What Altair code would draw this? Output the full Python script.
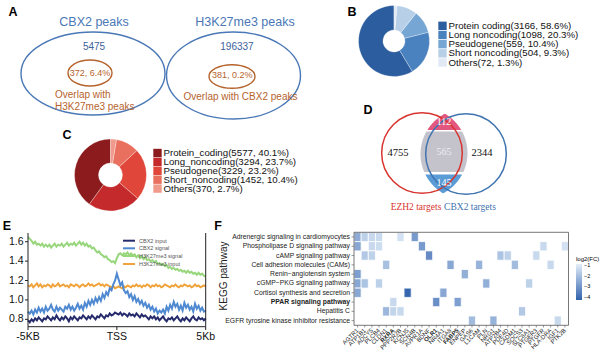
import math
import altair as alt
import numpy as np
import pandas as pd

# ======================= DATA =======================
# Panel A
a_sets = ["CBX2 peaks", "H3K27me3 peaks"]
a_totals = [5475, 196337]
a_overlap = [372, 381]
a_overlap_pct = ["6.4%", "0.2%"]
a_caption = [["Overlap with", "H3K27me3 peaks"], ["Overlap with CBX2 peaks"]]

# Panel B
b_types = ["Protein coding", "Long noncoding", "Pseudogene", "Short noncoding", "Others"]
b_counts = [3166, 1098, 559, 504, 72]
b_pcts = [58.6, 20.3, 10.4, 9.3, 1.3]

# Panel C
c_types = ["Protein_coding", "Long_noncoding", "Pseudogene", "Short_noncoding", "Others"]
c_counts = [5577, 3294, 3229, 1452, 370]
c_pcts = [40.1, 23.7, 23.2, 10.4, 2.7]

# Panel D
d_sets = ["EZH2 targets", "CBX2 targets"]
d_only = [4755, 2344]
d_shared = [112, 565, 145]

# Panel E
e_pos = [round(-5 + 0.1 * i, 1) for i in range(101)]
e_series = ["CBX2 input", "CBX2 signal", "H3K27me3 signal", "H3K27me3 input"]
e_cbx2_input = [
    0.79, 0.77, 0.80, 0.78, 0.81, 0.79, 0.82, 0.80, 0.78, 0.81,
    0.80, 0.83, 0.81, 0.79, 0.82, 0.80, 0.84, 0.81, 0.79, 0.82,
    0.80, 0.83, 0.81, 0.78, 0.82, 0.80, 0.83, 0.81, 0.79, 0.82,
    0.81, 0.84, 0.82, 0.80, 0.83, 0.81, 0.84, 0.82, 0.80, 0.83,
    0.82, 0.85, 0.83, 0.81, 0.84, 0.83, 0.86, 0.84, 0.85, 0.87,
    0.86, 0.85, 0.87, 0.84, 0.86, 0.85, 0.83, 0.86, 0.84, 0.85,
    0.83, 0.86, 0.84, 0.82, 0.85, 0.83, 0.84, 0.82, 0.80, 0.83,
    0.81, 0.83, 0.80, 0.82, 0.79, 0.81, 0.83, 0.80, 0.78, 0.81,
    0.80, 0.82, 0.79, 0.81, 0.83, 0.80, 0.78, 0.81, 0.79, 0.82,
    0.80, 0.78, 0.81, 0.83, 0.80, 0.79, 0.82, 0.80, 0.81, 0.79,
    0.81]
e_cbx2_signal = [
    0.88, 0.86, 0.89, 0.85, 0.90, 0.87, 0.92, 0.88, 0.91, 0.87,
    0.93, 0.89, 0.91, 0.95, 0.90, 0.88, 0.93, 0.89, 0.92, 0.90,
    0.88, 0.93, 0.91, 0.95, 0.90, 0.93, 0.89, 0.92, 0.96, 0.91,
    0.94, 0.90, 0.97, 0.93, 0.99, 0.95, 1.00, 0.96, 1.02, 0.98,
    1.03, 0.99, 1.06, 1.02, 1.08, 1.05, 1.12, 1.10, 1.16, 1.20,
    1.27, 1.21, 1.15, 1.18, 1.10, 1.07, 1.09, 1.03, 1.06, 1.00,
    1.04, 0.98, 1.01, 0.96, 0.99, 0.94, 0.97, 0.92, 0.95, 0.90,
    0.93, 0.88, 0.91, 0.86, 0.89, 0.87, 0.90, 0.86, 0.93, 0.89,
    0.95, 0.91, 0.98, 0.93, 0.96, 0.90, 0.94, 0.89, 0.97, 0.92,
    0.95, 0.90, 0.93, 0.88, 0.96, 0.91, 0.94, 0.89, 0.92, 0.88,
    0.89]
e_h3_signal = [
    1.65, 1.63, 1.61, 1.58, 1.60, 1.57, 1.58, 1.56, 1.58, 1.55,
    1.57, 1.55, 1.57, 1.54, 1.56, 1.58, 1.55, 1.57, 1.56, 1.58,
    1.55, 1.57, 1.59, 1.56, 1.58, 1.57, 1.59, 1.56, 1.58, 1.60,
    1.57, 1.59, 1.56, 1.58, 1.55, 1.56, 1.53, 1.54, 1.51, 1.49,
    1.50, 1.47, 1.46, 1.44, 1.45, 1.42, 1.41, 1.39, 1.40, 1.38,
    1.43, 1.47, 1.48, 1.46, 1.48, 1.47, 1.49, 1.46, 1.48, 1.46,
    1.47, 1.44, 1.46, 1.43, 1.45, 1.42, 1.44, 1.41, 1.42, 1.40,
    1.41, 1.39, 1.40, 1.37, 1.38, 1.36, 1.37, 1.35, 1.36, 1.33,
    1.34, 1.32, 1.33, 1.31, 1.32, 1.30, 1.31, 1.29, 1.30, 1.28,
    1.30, 1.28, 1.29, 1.27, 1.28, 1.26, 1.28, 1.26, 1.27, 1.25,
    1.24]
e_h3_input = [
    1.15, 1.14, 1.16, 1.13, 1.15, 1.17, 1.14, 1.16, 1.13, 1.15,
    1.14, 1.16, 1.15, 1.13, 1.16, 1.14, 1.15, 1.17, 1.14, 1.15,
    1.16, 1.14, 1.15, 1.13, 1.16, 1.15, 1.14, 1.16, 1.15, 1.13,
    1.15, 1.16, 1.14, 1.15, 1.17, 1.15, 1.16, 1.14, 1.15, 1.16,
    1.17, 1.15, 1.16, 1.14, 1.16, 1.15, 1.14, 1.13, 1.14, 1.12,
    1.13, 1.14, 1.13, 1.12, 1.14, 1.13, 1.15, 1.14, 1.13, 1.15,
    1.14, 1.16, 1.14, 1.15, 1.13, 1.15, 1.14, 1.16, 1.15, 1.13,
    1.15, 1.14, 1.16, 1.14, 1.15, 1.13, 1.14, 1.16, 1.15, 1.14,
    1.13, 1.15, 1.14, 1.16, 1.14, 1.13, 1.15, 1.14, 1.16, 1.15,
    1.14, 1.15, 1.13, 1.14, 1.16, 1.14, 1.15, 1.13, 1.14, 1.15,
    1.14]
e_xticks = [-5, 0, 5]
e_xlabels = ["-5KB", "TSS", "5Kb"]
e_yticks = [0.8, 1.0, 1.2, 1.4, 1.6]

# Panel F
f_pathways = [
    "Adrenergic signaling in cardiomyocytes",
    "Phospholipase D signaling pathway",
    "cAMP signaling pathway",
    "Cell adhesion molecules (CAMs)",
    "Renin\u2212angiotensin system",
    "cGMP\u2212PKG signaling pathway",
    "Cortisol synthesis and secretion",
    "PPAR signaling pathway",
    "Hepatitis C",
    "EGFR tyrosine kinase inhibitor resistance",
]
f_genes = ["AGTR1", "ATP1B1", "ADCY5", "PLCB4", "CLDN1", "RXRA", "PPP2R2B", "KCNJ5",
           "SCN4B", "AVPR1A", "BDNF", "OLR1", "NR4A1", "ITGA8", "FABP5", "ENPEP",
           "GAS6", "L1CAM", "PLN", "NRG1", "ATP2B4", "PDE4D", "CADM1", "SOCS3",
           "SLC8A1", "PTGER3", "PTGFR", "HLA-DRA", "IGF1", "PTK2B"]
f_hits = {
    "Adrenergic signaling in cardiomyocytes": [("AGTR1", -2.5), ("ATP1B1", -1.6), ("ADCY5", -1.4), ("PLCB4", -1.35), ("PPP2R2B", -1.2), ("SCN4B", -2.9)],
    "Phospholipase D signaling pathway": [("AGTR1", -2.6), ("ADCY5", -1.4), ("PLCB4", -1.3), ("AVPR1A", -2.9), ("PTGFR", -1.4), ("PTK2B", -1.2)],
    "cAMP signaling pathway": [("ATP1B1", -1.8), ("ADCY5", -1.6), ("BDNF", -3.3), ("ATP2B4", -1.9), ("PDE4D", -1.6), ("PTGER3", -1.4)],
    "Cell adhesion molecules (CAMs)": [("CLDN1", -2.0), ("ITGA8", -2.6), ("L1CAM", -2.3), ("CADM1", -2.1), ("HLA-DRA", -1.4)],
    "Renin\u2212angiotensin system": [("AGTR1", -2.8), ("ENPEP", -2.4)],
    "cGMP\u2212PKG signaling pathway": [("AGTR1", -2.6), ("ATP1B1", -1.9), ("PLCB4", -1.6), ("PLN", -2.4), ("SLC8A1", -1.6)],
    "Cortisol synthesis and secretion": [("AGTR1", -2.6), ("KCNJ5", -4.2), ("NR4A1", -2.6)],
    "PPAR signaling pathway": [("RXRA", -1.4), ("OLR1", -3.2), ("FABP5", -2.8)],
    "Hepatitis C": [("CLDN1", -2.2), ("RXRA", -1.5), ("PPP2R2B", -1.4), ("SOCS3", -1.8)],
    "EGFR tyrosine kinase inhibitor resistance": [("GAS6", -2.1), ("NRG1", -2.3), ("IGF1", -1.4)],
}
f_highlight = "PPAR signaling pathway"

# ======================= STYLE / LAYOUT =======================
SANS = "Liberation Sans"
SERIF = "Liberation Serif"
A_BLUE = "#4a78b6"
A_BROWN = "#b5632d"
B_PAL = ["#2c5d9f", "#4a82c0", "#76a6d3", "#b7d0e7", "#e0e9f4"]
C_PAL = ["#8c1b1d", "#c42a2b", "#e04639", "#e9705f", "#f09a8b"]
E_PAL = ["#262b6c", "#4e89d1", "#97d67b", "#f0a33a"]

letters = [("A", 13, 12), ("B", 352, 12), ("C", 67, 135), ("D", 368, 110), ("E", 7, 226), ("F", 218, 226)]


def pX(f="x"):
    return alt.X(f"{f}:Q", scale=None, axis=None)


def pY(f="y"):
    return alt.Y(f"{f}:Q", scale=None, axis=None)


def raw_color(f="col"):
    return alt.Color(f"{f}:N", scale=None, legend=None)


def texts(rows, align="center", baseline="middle", font=SANS, weight="normal", angle=None):
    df = pd.DataFrame(rows, columns=["t", "x", "y", "fs", "col"])
    kw = dict(align=align, baseline=baseline, font=font, fontWeight=weight)
    if angle is not None:
        kw["angle"] = angle
    return alt.Chart(df).mark_text(**kw).encode(
        x=pX(), y=pY(), text="t:N",
        size=alt.Size("fs:Q", scale=None, legend=None), color=raw_color())


def ellipse_path(k):
    return f"M -1 0 A 1 {k:.4f} 0 1 1 1 0 A 1 {k:.4f} 0 1 1 -1 0 Z"


units = []

# ---------------- Panel letters ----------------
units.append(texts([(l, x, y, 12.5, "#000") for l, x, y in letters], weight="bold"))

# ---------------- Panel A ----------------
A_OUTER = [(93, 73.5, 72, 41.5), (233.5, 75.5, 67, 43.5)]
A_INNER = [(90, 73, 22, 13), (232, 76.5, 23, 11.7)]
ell_rows = []
for (cx, cy, rx, ry) in A_OUTER:
    ell_rows.append(dict(x=cx, y=cy, shape=ellipse_path(ry / rx), size=(2 * rx) ** 2, col=A_BLUE))
for (cx, cy, rx, ry) in A_INNER:
    ell_rows.append(dict(x=cx, y=cy, shape=ellipse_path(ry / rx), size=(2 * rx) ** 2, col=A_BROWN))
units.append(alt.Chart(pd.DataFrame(ell_rows)).mark_point(filled=False, strokeWidth=1.4, opacity=1).encode(
    x=pX(), y=pY(), shape=alt.Shape("shape:N", scale=None, legend=None),
    size=alt.Size("size:Q", scale=None, legend=None), color=raw_color()))

A_TITLE_POS = [(94, 22), (245, 22)]
A_TOTAL_POS = [(94, 47), (237, 47)]
A_OVL_POS = [(90, 73), (232.3, 75)]
rows = []
for i in range(2):
    rows.append((a_sets[i], *A_TITLE_POS[i], 12.5, A_BLUE))
    rows.append((str(a_totals[i]), *A_TOTAL_POS[i], 10, "#3d629c"))
    rows.append((f"{a_overlap[i]}, {a_overlap_pct[i]}", *A_OVL_POS[i], 9, A_BROWN))
units.append(texts(rows))
A_CAP_POS = [[(55, 95), (55, 106.5)], [(183.5, 97)]]
cap_rows = []
for i in range(2):
    for line, (x, y) in zip(a_caption[i], A_CAP_POS[i]):
        cap_rows.append((line, x, y, 10, A_BROWN))
units.append(texts(cap_rows, align="left"))


# ---------------- Panels B & C (donuts) ----------------
def donut(types, counts, pcts, pal, center, r_in, r_out, sq_x, txt_x, y_range):
    df = pd.DataFrame({"type": types, "count": counts, "pct": pcts})
    df["label"] = [f"{t}({c}, {p}%)" for t, c, p in zip(types, counts, pcts)]
    df["ord"] = list(range(len(types)))[::-1]
    cscale = alt.Scale(domain=types, range=pal)
    pie = alt.Chart(df).mark_arc(innerRadius=r_in, outerRadius=r_out, stroke="white", strokeWidth=0.3).encode(
        theta=alt.Theta("count:Q", stack=True),
        order=alt.Order("ord:Q"),
        color=alt.Color("type:N", scale=cscale, legend=None),
        x=alt.value(center[0]), y=alt.value(center[1]))
    hole = alt.Chart(pd.DataFrame({"x": [center[0]], "y": [center[1]]})).mark_point(
        shape="circle", filled=True, opacity=1, color="white", strokeWidth=0,
        size=math.pi * r_in * r_in).encode(x=pX(), y=pY())
    yscale = alt.Scale(type="point", domain=types, range=y_range, padding=0)
    sq = alt.Chart(df).mark_square(size=70, opacity=1).encode(
        x=alt.value(sq_x), y=alt.Y("type:N", scale=yscale, axis=None),
        color=alt.Color("type:N", scale=cscale, legend=None))
    lab = alt.Chart(df).mark_text(align="left", baseline="middle", font=SANS, fontSize=9.7, color="#111").encode(
        x=alt.value(txt_x), y=alt.Y("type:N", scale=yscale, axis=None), text="label:N")
    return [pie, hole, sq, lab]


units += donut(b_types, b_counts, b_pcts, B_PAL, (394, 41), 11, 35.5, 442.5, 448.5, [25.8, 62.5])
units += donut(c_types, c_counts, c_pcts, C_PAL, (110.5, 175), 12, 36, 157.5, 163.5, [153, 188.6])

# ---------------- Panel D (Venn) ----------------
RED_C = (422.0, 153.0)
BLUE_C = (466.0, 154.0)
R = 45.5
LENS_C = (444.0, 153.0)
S = 50.0


def circ_x(c, y, side):
    d = R * R - (y - c[1]) ** 2
    if d < 0:
        return None
    return c[0] + side * math.sqrt(d)


lens_ys = []
for y in np.arange(100, 210, 0.05):
    xl, xr = circ_x(BLUE_C, y, -1), circ_x(RED_C, y, 1)
    if xl is not None and xr is not None and xl <= xr:
        lens_ys.append(float(y))
l_top, l_bot = min(lens_ys), max(lens_ys)


def band_path(y0, y1):
    yy = np.linspace(y0, y1, 30)
    pts = [(circ_x(BLUE_C, y, -1), y) for y in yy] + [(circ_x(RED_C, y, 1), y) for y in yy[::-1]]
    return "M " + " L ".join(f"{(x - LENS_C[0]) / S:.4f} {(y - LENS_C[1]) / S:.4f}" for x, y in pts) + " Z"


bands = [(l_top, 130.0, "#e2577f"), (131.6, 172.0, "#c4c2cb"), (174.4, l_bot, "#5b9bd6")]
band_df = pd.DataFrame([dict(x=LENS_C[0], y=LENS_C[1], shape=band_path(a, b), size=(2 * S) ** 2, col=c)
                        for a, b, c in bands])
units.append(alt.Chart(band_df).mark_point(filled=True, opacity=1, strokeWidth=0).encode(
    x=pX(), y=pY(), shape=alt.Shape("shape:N", scale=None, legend=None),
    size=alt.Size("size:Q", scale=None, legend=None), color=raw_color()))
circ_df = pd.DataFrame([dict(x=RED_C[0], y=RED_C[1], size=math.pi * R * R, col="#d8342f"),
                        dict(x=BLUE_C[0], y=BLUE_C[1], size=math.pi * R * R, col="#3f74b0")])
units.append(alt.Chart(circ_df).mark_point(filled=False, shape="circle", strokeWidth=1.5, opacity=1).encode(
    x=pX(), y=pY(), size=alt.Size("size:Q", scale=None, legend=None), color=raw_color()))
d_rows = [
    (str(d_only[0]), 398, 153, 10.5, "#111"),
    (str(d_only[1]), 482, 153, 10.5, "#111"),
    (str(d_shared[0]), 444, 122, 10, "#ffffff"),
    (str(d_shared[1]), 444, 152, 10, "#ececf2"),
    (str(d_shared[2]), 444, 182.5, 10, "#ffffff"),
    (d_sets[0], 416, 207, 9.5, "#d8342f"),
    (d_sets[1], 470, 207, 9.5, "#3f74b0"),
]
units.append(texts(d_rows, font=SERIF))

# ---------------- Panel E (profile) ----------------
E_XDOM = [-5, 5]
E_YDOM = [0.724, 1.69]
exs = alt.Scale(domain=E_XDOM, range=[28, 205.7], nice=False, zero=False)
eys = alt.Scale(domain=E_YDOM, range=[326.7, 233], nice=False, zero=False)
e_vals = {"CBX2 input": e_cbx2_input, "CBX2 signal": e_cbx2_signal,
          "H3K27me3 signal": e_h3_signal, "H3K27me3 input": e_h3_input}
e_col = dict(zip(e_series, E_PAL))
for s in ["H3K27me3 signal", "H3K27me3 input", "CBX2 input", "CBX2 signal"]:
    df = pd.DataFrame({"pos": e_pos, "val": e_vals[s]})
    units.append(alt.Chart(df).mark_line(strokeWidth=2, color=e_col[s]).encode(
        x=alt.X("pos:Q", scale=exs, axis=None), y=alt.Y("val:Q", scale=eys, axis=None)))
frame = pd.DataFrame({"x": [E_XDOM[0], E_XDOM[0], E_XDOM[1]], "x2": [E_XDOM[0], E_XDOM[1], E_XDOM[1]],
                      "y": [E_YDOM[0], E_YDOM[0], E_YDOM[0]], "y2": [E_YDOM[1], E_YDOM[0], E_YDOM[1]]})
units.append(alt.Chart(frame).mark_rule(color="#222", strokeWidth=1).encode(
    x=alt.X("x:Q", scale=exs, axis=None), x2="x2:Q", y=alt.Y("y:Q", scale=eys, axis=None), y2="y2:Q"))
yt = pd.DataFrame({"v": e_yticks})
units.append(alt.Chart(yt).mark_rule(color="#222").encode(
    x=alt.value(25), x2=alt.value(28), y=alt.Y("v:Q", scale=eys, axis=None)))
units.append(alt.Chart(yt).mark_text(align="right", baseline="middle", font=SANS, fontSize=10.5, color="#111").encode(
    x=alt.value(23.5), y=alt.Y("v:Q", scale=eys, axis=None), text=alt.Text("v:Q", format=".1f")))
xt = pd.DataFrame({"v": e_xticks, "lab": e_xlabels})
units.append(alt.Chart(xt).mark_rule(color="#222").encode(
    x=alt.X("v:Q", scale=exs, axis=None), y=alt.value(326.7), y2=alt.value(330)))
units.append(alt.Chart(xt).mark_text(align="center", baseline="top", font=SANS, fontSize=10.5, color="#111").encode(
    x=alt.X("v:Q", scale=exs, axis=None), y=alt.value(332), text="lab:N"))
E_LEG_Y = [240.7, 248.3, 256, 264]
leg = pd.DataFrame({"t": e_series, "x": 123, "x2": 135, "tx": 139, "y": E_LEG_Y, "col": E_PAL})
units.append(alt.Chart(leg).mark_rule(strokeWidth=2).encode(x=pX("x"), x2="x2:Q", y=pY(), color=raw_color()))
units.append(alt.Chart(leg).mark_text(align="left", baseline="middle", font=SANS, fontSize=5.5, color="#555").encode(
    x=pX("tx"), y=pY(), text="t:N"))

# ---------------- Panel F (heatmap) ----------------
NG, NP = len(f_genes), len(f_pathways)
fxs = alt.Scale(domain=[0, NG], range=[354, 568.5], nice=False, zero=False)
fys = alt.Scale(domain=[0, NP], range=[232.3, 325.3], nice=False, zero=False)
cells = []
for p, hits in f_hits.items():
    for g, v in hits:
        cells.append(dict(gi=f_genes.index(g), pi=f_pathways.index(p), val=v))
cells = pd.DataFrame(cells)
units.append(alt.Chart(cells).transform_calculate(gi2="datum.gi + 1", pi2="datum.pi + 1").mark_rect(
    stroke="white", strokeWidth=0.8).encode(
    x=alt.X("gi:Q", scale=fxs, axis=None), x2="gi2:Q",
    y=alt.Y("pi:Q", scale=fys, axis=None), y2="pi2:Q",
    color=alt.Color("val:Q", scale=alt.Scale(domain=[-4.3, -0.9], range=["#2f62ad", "#e4eef9"]),
                    legend=alt.Legend(orient="none", legendX=576, legendY=256, title="log2(FC)",
                                      titleFont=SANS, titleFontSize=6, titleFontWeight="normal",
                                      titlePadding=2, labelFont=SANS, labelFontSize=5.5,
                                      gradientLength=36, gradientThickness=6, direction="vertical",
                                      values=[-1, -2, -3, -4], labelOffset=2))))
fr = pd.DataFrame({"a": [0], "b": [NG], "c": [0], "d": [NP]})
units.append(alt.Chart(fr).mark_rect(fillOpacity=0, stroke="#555", strokeWidth=0.8).encode(
    x=alt.X("a:Q", scale=fxs, axis=None), x2="b:Q", y=alt.Y("c:Q", scale=fys, axis=None), y2="d:Q"))
pdf = pd.DataFrame({"name": f_pathways, "pc": [i + 0.5 for i in range(NP)]})
pdf["bold"] = pdf["name"] == f_highlight
units.append(alt.Chart(pdf).mark_rule(color="#555", strokeWidth=0.6).encode(
    x=alt.value(351.5), x2=alt.value(354), y=alt.Y("pc:Q", scale=fys, axis=None)))
for b in [False, True]:
    units.append(alt.Chart(pdf[pdf["bold"] == b]).mark_text(
        align="right", baseline="middle", font=SANS, fontSize=6.8, color="#222",
        fontWeight="bold" if b else "normal").encode(
        x=alt.value(350), y=alt.Y("pc:Q", scale=fys, axis=None), text="name:N"))
bold_genes = [g for g, _ in f_hits[f_highlight]]
gdf = pd.DataFrame({"gene": f_genes, "gc": [i + 0.5 for i in range(NG)]})
gdf["bold"] = gdf["gene"].isin(bold_genes)
units.append(alt.Chart(gdf).mark_rule(color="#555", strokeWidth=0.6).encode(
    x=alt.X("gc:Q", scale=fxs, axis=None), y=alt.value(325.3), y2=alt.value(327.5)))
for b in [False, True]:
    units.append(alt.Chart(gdf[gdf["bold"] == b]).mark_text(
        align="right", baseline="middle", font=SANS, fontSize=6, color="#222", angle=315,
        fontWeight="bold" if b else "normal").encode(
        x=alt.X("gc:Q", scale=fxs, axis=None), y=alt.value(329.5), text="gene:N"))
units.append(texts([("KEGG pathway", 224, 276, 10, "#222")], angle=270))

chart = alt.layer(*units).resolve_scale(
    x="independent", y="independent", color="independent", theta="independent"
).properties(
    width=600, height=353, autosize=alt.AutoSizeParams(type="none"), padding=0, background="white"
).configure_view(strokeWidth=0)

chart.save("out.html", embed_options={"renderer": "svg", "actions": False})
